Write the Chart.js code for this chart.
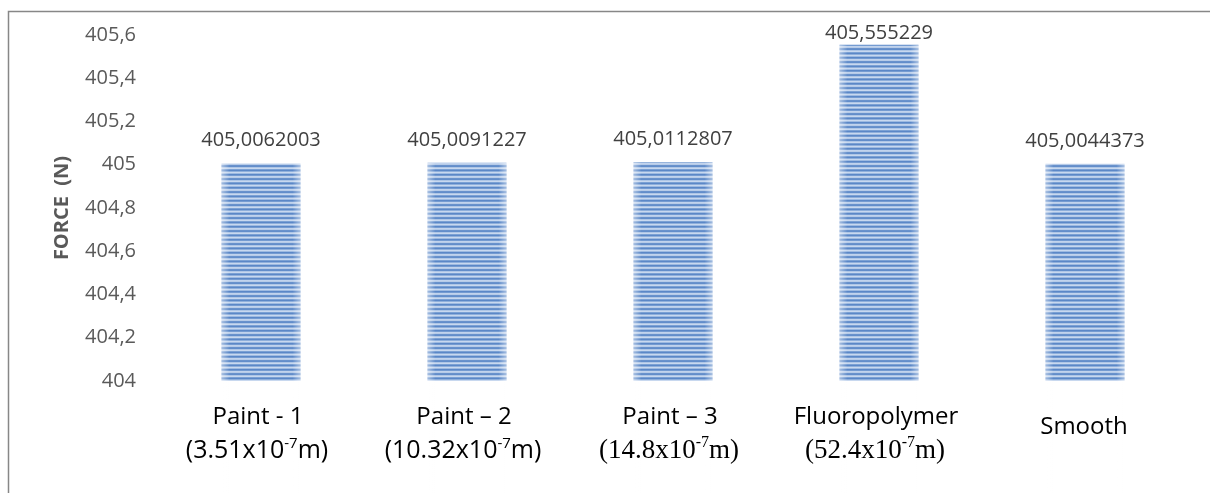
<!DOCTYPE html>
<html>
<head>
<meta charset="utf-8">
<script src="https://cdn.jsdelivr.net/npm/chart.js@4"></script>
<style>
  html, body { margin: 0; padding: 0; background: #ffffff; }
  #wrap { width: 1210px; height: 493px; position: relative; }
</style>
</head>
<body>
<div id="wrap"><canvas id="c" width="1210" height="493"></canvas></div>
<script>
// Surface types and their roughness (x10^-7 m); Smooth has none
const categories = ['Paint - 1', 'Paint – 2', 'Paint – 3', 'Fluoropolymer', 'Smooth'];
const roughness = ['3.51', '10.32', '14.8', '52.4', null];
// Drag force on each surface (N)
const forceValues = [405.0062003, 405.0091227, 405.0112807, 405.555229, 405.0044373];
// Y axis tick labels (decimal comma), bottom to top
const yTickLabels = ['404', '404,2', '404,4', '404,6', '404,8', '405', '405,2', '405,4', '405,6'];

// roughness lines set in a serif face
const serifRoughness = [false, false, true, true, false];

const SANS = '"Open Sans", "Noto Sans", sans-serif';
const SERIF = '"Liberation Serif", "DejaVu Serif", serif';

// horizontal striped fill for the bars
function stripePattern() {
  const off = document.createElement('canvas');
  off.width = 4; off.height = 13;
  const g = off.getContext('2d');
  g.fillStyle = '#c8d8ef';
  g.fillRect(0, 0, 4, 13);
  const bands = [0, 4.33, 8.66];
  bands.forEach(b => {
    g.fillStyle = '#92b2dd';
    g.fillRect(0, b, 4, 2.8);
    g.fillStyle = '#5b87c7';
    g.fillRect(0, b + 0.6, 4, 1.6);
  });
  return document.getElementById('c').getContext('2d').createPattern(off, 'repeat');
}

function formatValue(v) {
  return String(v).replace('.', ',');
}

// draws text segments centred on cx; segments flagged sup are raised and smaller
function drawRich(ctx, segs, cx, baseline, size, family) {
  const supSize = Math.round(size * 0.6);
  let total = 0;
  segs.forEach(s => {
    ctx.font = (s.sup ? supSize : size) + 'px ' + family;
    s.w = ctx.measureText(s.t).width;
    total += s.w;
  });
  let x = cx - total / 2;
  ctx.textAlign = 'left';
  ctx.textBaseline = 'alphabetic';
  segs.forEach(s => {
    ctx.font = (s.sup ? supSize : size) + 'px ' + family;
    ctx.fillText(s.t, x, s.sup ? baseline - size * 0.4 : baseline);
    x += s.w;
  });
}

const decorPlugin = {
  id: 'decor',
  beforeDraw(chart) {
    const ctx = chart.ctx;
    ctx.save();
    ctx.strokeStyle = '#878787';
    ctx.lineWidth = 1.5;
    ctx.beginPath();
    ctx.moveTo(8.5, chart.height + 2);
    ctx.lineTo(8.5, 11.5);
    ctx.lineTo(chart.width + 2, 11.5);
    ctx.stroke();
    ctx.restore();
  },
  afterDatasetsDraw(chart) {
    const ctx = chart.ctx;
    const meta = chart.getDatasetMeta(0);
    ctx.save();
    meta.data.forEach((bar, i) => {
      const left = bar.x - bar.width / 2;
      const right = bar.x + bar.width / 2;
      const top = Math.min(bar.y, bar.base);
      const h = Math.abs(bar.base - bar.y);
      // soft light edges on each bar
      const gr = ctx.createLinearGradient(left, 0, right, 0);
      gr.addColorStop(0, 'rgba(255,255,255,0.45)');
      gr.addColorStop(0.1, 'rgba(255,255,255,0)');
      gr.addColorStop(0.9, 'rgba(255,255,255,0)');
      gr.addColorStop(1, 'rgba(255,255,255,0.45)');
      ctx.fillStyle = gr;
      ctx.fillRect(left, top, right - left, h);

      // value label above the bar, kept inside the plot
      ctx.fillStyle = '#404040';
      ctx.font = '20px ' + SANS;
      ctx.textAlign = 'center';
      ctx.textBaseline = 'alphabetic';
      const baseline = Math.max(top - 17, 39);
      ctx.fillText(formatValue(forceValues[i]), bar.x, baseline);
    });
    ctx.restore();
  },
  afterDraw(chart) {
    const ctx = chart.ctx;
    const xs = chart.scales.x;
    ctx.save();
    ctx.fillStyle = '#000000';
    categories.forEach((name, i) => {
      const cx = xs.getPixelForValue(i);
      const r = roughness[i];
      ctx.font = '24px ' + SANS;
      ctx.textAlign = 'center';
      ctx.textBaseline = 'alphabetic';
      if (r === null) {
        ctx.fillText(name, cx - 1, 434);
        return;
      }
      ctx.fillText(name, cx - 3, 424);
      const segs = [{ t: '(' + r + 'x10' }, { t: '-7', sup: true }, { t: 'm)' }];
      if (serifRoughness[i]) {
        drawRich(ctx, segs, cx - 4, 458, 27, SERIF);
      } else {
        drawRich(ctx, segs, cx - 4, 458, 25, SANS);
      }
    });

    // y axis title
    ctx.translate(62, (chart.chartArea.top + chart.chartArea.bottom) / 2);
    ctx.rotate(-Math.PI / 2);
    ctx.font = 'bold 20px ' + SANS;
    ctx.fillStyle = '#595959';
    ctx.textAlign = 'center';
    ctx.textBaseline = 'middle';
    ctx.fillText('FORCE  (N)', 0, 0);
    ctx.restore();
  }
};

new Chart(document.getElementById('c'), {
  type: 'bar',
  data: {
    labels: categories,
    datasets: [{
      data: forceValues,
      backgroundColor: stripePattern(),
      borderWidth: 0,
      barPercentage: 0.383,
      categoryPercentage: 1.0
    }]
  },
  options: {
    responsive: false,
    animation: false,
    devicePixelRatio: 1,
    layout: { padding: { left: 0, right: 22, top: 35, bottom: 112 } },
    plugins: { legend: { display: false }, tooltip: { enabled: false } },
    scales: {
      x: {
        grid: { display: false, drawTicks: false },
        border: { display: false },
        ticks: { display: false },
        afterFit(s) { s.height = 0; }
      },
      y: {
        min: 404,
        max: 405.6,
        grid: { display: false, drawTicks: false },
        border: { display: false },
        ticks: {
          stepSize: 0.2,
          padding: 22,
          color: '#595959',
          font: { family: SANS, size: 20 },
          callback: (v, i) => yTickLabels[i]
        },
        afterFit(s) { s.width = 158; }
      }
    }
  },
  plugins: [decorPlugin]
});
</script>
</body>
</html>
